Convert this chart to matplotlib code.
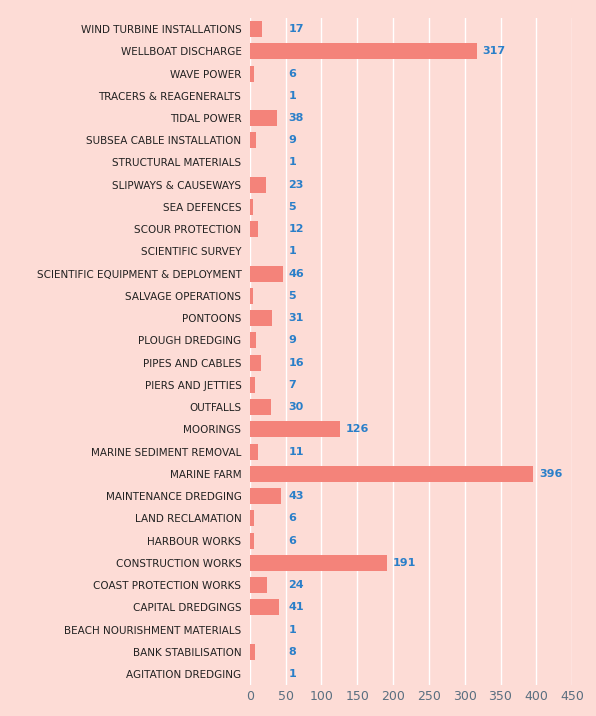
import matplotlib.pyplot as plt

#### -------- データ -------- ####
categories = [
    "WIND TURBINE INSTALLATIONS", "WELLBOAT DISCHARGE", "WAVE POWER",
    "TRACERS & REAGENERALTS", "TIDAL POWER", "SUBSEA CABLE INSTALLATION",
    "STRUCTURAL MATERIALS", "SLIPWAYS & CAUSEWAYS", "SEA DEFENCES",
    "SCOUR PROTECTION", "SCIENTIFIC SURVEY", "SCIENTIFIC EQUIPMENT & DEPLOYMENT",
    "SALVAGE OPERATIONS", "PONTOONS", "PLOUGH DREDGING", "PIPES AND CABLES",
    "PIERS AND JETTIES", "OUTFALLS", "MOORINGS", "MARINE SEDIMENT REMOVAL",
    "MARINE FARM", "MAINTENANCE DREDGING", "LAND RECLAMATION", "HARBOUR WORKS",
    "CONSTRUCTION WORKS", "COAST PROTECTION WORKS", "CAPITAL DREDGINGS",
    "BEACH NOURISHMENT MATERIALS", "BANK STABILISATION", "AGITATION DREDGING",
]
values = [17, 317, 6, 1, 38, 9, 1, 23, 5, 12, 1, 46, 5, 31, 9, 16, 7, 30, 126,
          11, 396, 43, 6, 6, 191, 24, 41, 1, 8, 1]
xticks = [0, 50, 100, 150, 200, 250, 300, 350, 400, 450]

BG = "#FDDCD6"
BAR = "#F4837A"
LABEL = "#2A7FC9"

#### -------- グラフ -------- ####
fig = plt.figure(figsize=(5.96, 7.16), dpi=100, facecolor=BG)
ax = fig.add_axes([0.419, 0.043, 0.541, 0.932], facecolor=BG)

y = list(range(len(categories)))
ax.barh(y, values, height=0.72, color=BAR, zorder=3)
for yi, v in zip(y, values):
    ax.text(max(v, 46) + 8, yi, str(v), va="center", ha="left",
            color=LABEL, fontsize=8, fontweight="bold")

ax.set_yticks(y)
ax.set_yticklabels(categories, fontsize=7.5, color="#222222")
ax.invert_yaxis()
ax.set_ylim(len(categories) - 0.5, -0.5)
ax.set_xlim(0, 450)
ax.set_xticks(xticks)
ax.set_xticklabels([str(t) for t in xticks], fontsize=9, color="#5A6F80")
ax.tick_params(axis="both", length=0)
ax.tick_params(axis="y", pad=6)
ax.grid(axis="x", color="white", lw=1, zorder=0)
for s in ax.spines.values():
    s.set_visible(False)

fig.savefig("out.png", facecolor=BG)
